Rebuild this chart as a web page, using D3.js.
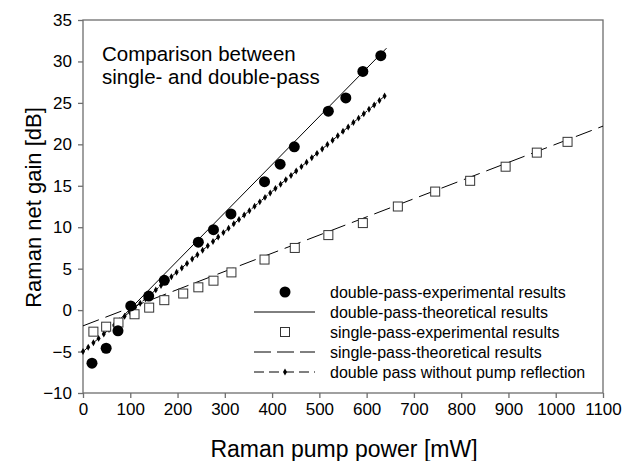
<!DOCTYPE html>
<html>
<head>
<meta charset="utf-8">
<script src="https://cdn.jsdelivr.net/npm/d3@7"></script>
<style>
body { margin: 0; background: #fff; }
svg { font-family: Arial, "Liberation Sans", sans-serif; }
</style>
</head>
<body>
<div id="chart"></div>
<script>
// double-pass experimental results (filled circles)
const dpExpX = [19, 49, 74, 101, 139, 172, 244, 276, 313, 384, 417, 447, 519, 556, 592, 630];
const dpExpY = [-6.4, -4.6, -2.5, 0.5, 1.7, 3.6, 8.2, 9.7, 11.6, 15.5, 17.6, 19.7, 24.0, 25.6, 28.8, 30.7];

// double-pass theoretical results (solid line)
const dpTheoX = [75, 642];
const dpTheoY = [-1.3, 31.6];

// single-pass experimental results (open squares)
const spExpX = [22, 49, 75, 109, 140, 172, 212, 244, 276, 314, 384, 448, 519, 592, 666, 745, 819, 894, 960, 1025];
const spExpY = [-2.6, -2.0, -1.5, -0.5, 0.3, 1.2, 2.0, 2.75, 3.55, 4.55, 6.1, 7.5, 9.05, 10.5, 12.5, 14.3, 15.6, 17.3, 19.0, 20.3];

// single-pass theoretical results (long dashes)
const spTheoX = [0, 1100];
const spTheoY = [-1.9, 22.2];

// double pass without pump reflection (dashed line with small markers)
const noReflX = [0, 11, 22, 33, 44, 55, 66, 77, 88, 99, 110, 121, 132, 143, 154, 165, 176, 187, 198, 209,
  220, 231, 242, 253, 264, 275, 286, 297, 308, 319, 330, 341, 352, 363, 374, 385, 396, 407, 418, 429,
  440, 451, 462, 473, 484, 495, 506, 517, 528, 539, 550, 561, 572, 583, 594, 605, 616, 627, 638];
const noReflY = [-5.00, -4.47, -3.94, -3.41, -2.87, -2.34, -1.81, -1.28, -0.75, -0.22, 0.31, 0.84, 1.38, 1.91, 2.44, 2.97, 3.50, 4.03, 4.56, 5.09,
  5.63, 6.16, 6.69, 7.22, 7.75, 8.28, 8.81, 9.35, 9.88, 10.41, 10.94, 11.47, 12.00, 12.53, 13.06, 13.60, 14.13, 14.66, 15.19, 15.72,
  16.25, 16.78, 17.31, 17.85, 18.38, 18.91, 19.44, 19.97, 20.50, 21.03, 21.57, 22.10, 22.63, 23.16, 23.69, 24.22, 24.75, 25.28, 25.82];

const xTicks = [0, 100, 200, 300, 400, 500, 600, 700, 800, 900, 1000, 1100];
const yTicks = [-10, -5, 0, 5, 10, 15, 20, 25, 30, 35];

const legendLabels = [
  "double-pass-experimental results",
  "double-pass-theoretical results",
  "single-pass-experimental results",
  "single-pass-theoretical results",
  "double pass without pump reflection"
];

const W = 639, H = 461;
const margin = {top: 20, right: 36, bottom: 68, left: 83};
const width = W - margin.left - margin.right;
const height = H - margin.top - margin.bottom;
const axisCol = "#6e6e6e";

const svg = d3.select("#chart").append("svg")
  .attr("width", W)
  .attr("height", H);
const g = svg.append("g")
  .attr("transform", "translate(" + margin.left + "," + margin.top + ")");

const x = d3.scaleLinear().domain([0, 1100]).range([0, width]);
const y = d3.scaleLinear().domain([-10, 35]).range([height, 0]);

// frame
g.append("rect")
  .attr("width", width).attr("height", height)
  .attr("fill", "none").attr("stroke", axisCol).attr("stroke-width", 1.3);

// axes
const xAxis = g.append("g")
  .attr("transform", "translate(0," + height + ")")
  .call(d3.axisBottom(x).tickValues(xTicks).tickFormat(d3.format("d")).tickSize(5).tickPadding(5).tickSizeOuter(0));
const yAxis = g.append("g")
  .call(d3.axisLeft(y).tickValues(yTicks).tickFormat(d3.format("d")).tickSize(5).tickPadding(6).tickSizeOuter(0));
[xAxis, yAxis].forEach(a => {
  a.select(".domain").remove();
  a.selectAll("line").attr("stroke", axisCol).attr("stroke-width", 1.3);
  a.selectAll("text").attr("fill", "#000").style("font-size", "17px").style("font-family", "Arial, 'Liberation Sans', sans-serif");
});

// axis titles
svg.append("text")
  .attr("x", margin.left + width / 2 + 1).attr("y", 457)
  .attr("text-anchor", "middle").style("font-size", "23px")
  .text("Raman pump power [mW]");
svg.append("text")
  .attr("transform", "translate(41," + (margin.top + height / 2 + 1) + ") rotate(-90)")
  .attr("text-anchor", "middle").style("font-size", "22px")
  .text("Raman net gain [dB]");

// annotation
const note = g.append("text").style("font-size", "20.5px")
  .attr("x", 19).attr("y", 41);
note.append("tspan").attr("x", 19).text("Comparison between");
note.append("tspan").attr("x", 19).attr("dy", 22.5).text("single- and double-pass");

const line = d3.line().x(d => x(d[0])).y(d => y(d[1]));
const plot = g.append("g");

// single-pass theoretical
plot.append("path")
  .datum(d3.zip(spTheoX, spTheoY))
  .attr("d", line).attr("fill", "none").attr("stroke", "#000")
  .attr("stroke-width", 1).attr("stroke-dasharray", "17,7");

// no pump reflection
plot.append("path")
  .datum(d3.zip(noReflX, noReflY))
  .attr("d", line).attr("fill", "none").attr("stroke", "#000")
  .attr("stroke-width", 1).attr("stroke-dasharray", "8,5");
const diamond = d3.symbol().type(d3.symbolDiamond).size(14);
plot.selectAll(".nr").data(d3.zip(noReflX, noReflY)).join("path")
  .attr("class", "nr")
  .attr("transform", d => "translate(" + x(d[0]) + "," + y(d[1]) + ")")
  .attr("d", diamond).attr("fill", "#000");

// double-pass theoretical
plot.append("path")
  .datum(d3.zip(dpTheoX, dpTheoY))
  .attr("d", line).attr("fill", "none").attr("stroke", "#000").attr("stroke-width", 1);

// single-pass experimental
plot.selectAll(".sq").data(d3.zip(spExpX, spExpY)).join("rect")
  .attr("class", "sq")
  .attr("x", d => x(d[0]) - 4.5).attr("y", d => y(d[1]) - 4.5)
  .attr("width", 9).attr("height", 9)
  .attr("fill", "#fff").attr("stroke", "#333").attr("stroke-width", 1);

// double-pass experimental
plot.selectAll(".dot").data(d3.zip(dpExpX, dpExpY)).join("circle")
  .attr("class", "dot")
  .attr("cx", d => x(d[0])).attr("cy", d => y(d[1])).attr("r", 5.5)
  .attr("fill", "#000");

// legend
const lg = svg.append("g").attr("transform", "translate(254,292)");
legendLabels.forEach((t, i) => {
  const row = lg.append("g").attr("transform", "translate(0," + i * 20 + ")");
  row.append("text").attr("x", 76).attr("y", 5.5).style("font-size", "16px").text(t);
  if (i === 0) {
    row.append("circle").attr("cx", 31).attr("cy", 0).attr("r", 5.5).attr("fill", "#000");
  } else if (i === 1) {
    row.append("line").attr("x1", 0).attr("x2", 61).attr("stroke", "#000");
  } else if (i === 2) {
    row.append("rect").attr("x", 26.5).attr("y", -4.5).attr("width", 9).attr("height", 9)
      .attr("fill", "#fff").attr("stroke", "#333");
  } else if (i === 3) {
    row.append("line").attr("x1", 0).attr("x2", 61).attr("stroke", "#000").attr("stroke-dasharray", "17,6");
  } else {
    row.append("line").attr("x1", 0).attr("x2", 61).attr("stroke", "#000").attr("stroke-dasharray", "10,5");
    row.append("path").attr("transform", "translate(31,0)").attr("d", diamond).attr("fill", "#000");
  }
});
</script>
</body>
</html>
